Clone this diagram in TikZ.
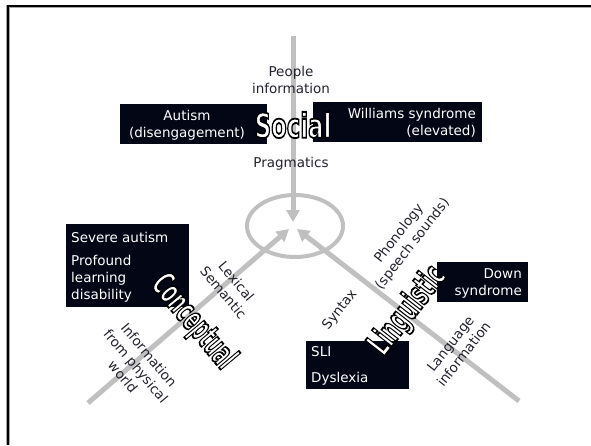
\documentclass[tikz,border=0pt]{standalone}
\usepackage{fontspec}
\setmainfont{DejaVu Sans}
\newfontfamily\headfont{DejaVu Sans}
\usetikzlibrary{arrows.meta,positioning,calc}
\definecolor{boxnavy}{RGB}{3,6,20}
\definecolor{axisgray}{RGB}{192,192,192}
\definecolor{labelink}{RGB}{35,35,45}
% white letters with a black outline (text render mode 2)
\newcommand{\domainword}[2]{\textcolor{white}{\special{pdf:literal direct 2 Tr 1.8 w 0 0 0 RG}\scalebox{#1}[1]{#2}\special{pdf:literal direct 0 Tr}}}

\begin{document}
\begin{tikzpicture}[x=1pt,y=-1pt,font=\fontsize{13.5}{17}\selectfont,
  axis/.style={draw=axisgray,line width=5pt},
  tip/.style={-{Triangle[length=12pt,width=13pt]}},
  box/.style={fill=boxnavy,inner sep=0pt},
  boxtxt/.style={text=white,inner sep=0pt},
  lbl/.style={text=labelink,align=center,inner sep=0pt},
  areaword/.style={font=\headfont\bfseries\fontsize{34}{40}\selectfont,inner sep=0pt}]
  \useasboundingbox (0,0) rectangle (591,445);
  % slide frame
  \draw[black!35,line width=3.5pt] (7.8,445) -- (7.8,6.3) -- (591,6.3);
  \draw[black,line width=2.2pt] (7.8,445) -- (7.8,6.3) -- (591,6.3);
  % three routes into the hub
  \coordinate (topEnd) at (293,36);
  \coordinate (tipS) at (293,222);
  \coordinate (leftEnd) at (88,403);
  \coordinate (tipC) at (289,229);
  \coordinate (rightEnd) at (519,401);
  \coordinate (tipL) at (297,229);
  \draw[axisgray,line width=4pt] (295,226) ellipse [x radius=48pt,y radius=31pt];
  \draw[axis,tip] (topEnd) -- (tipS);
  \draw[axis,tip] (leftEnd) -- (tipC);
  \draw[axis,tip] (rightEnd) -- (tipL);
  % labels along the routes
  \node[lbl] (people) at (291,80) {People\\information};
  \node[lbl] (pragmatics) at (291,164) {Pragmatics};
  \node[lbl,rotate=-50] (lexical) at (230,287) {Lexical\\Semantic};
  \node[lbl,rotate=-50] (physical) at (136,366) {Information\\from physical\\world};
  \node[lbl,rotate=52] (phonology) at (406,239) {Phonology\\(speech sounds)};
  \node[lbl,rotate=52] (syntax) at (340,310) {Syntax};
  \node[lbl,rotate=52] (language) at (457,349) {Language\\information};
  % disorder boxes
  \node[box,minimum width=147pt,minimum height=40pt] (autismbox) at (193.5,124) {};
  \node[boxtxt,align=center] (autism) at (187,125) {Autism\\(disengagement)};
  \node[box,minimum width=169pt,minimum height=40pt] (williamsbox) at (397.5,122) {};
  \node[boxtxt,align=right,anchor=east] (williams) at (476,123) {Williams syndrome\\(elevated)};
  \node[box,minimum width=123pt,minimum height=83pt] (severebox) at (127.5,265.5) {};
  \node[boxtxt,anchor=west] (severe) at (71,237) {Severe autism};
  \node[boxtxt,align=left,anchor=west] (profound) at (71,279) {Profound\\learning\\disability};
  \node[box,minimum width=91pt,minimum height=40pt] (downbox) at (482.5,282) {};
  \node[boxtxt,align=right,anchor=east] (down) at (522,283) {Down\\syndrome};
  \node[box,minimum width=103pt,minimum height=48pt] (slibox) at (357.5,365) {};
  \node[boxtxt,anchor=west] (sli) at (311,352) {SLI};
  \node[boxtxt,anchor=west] (dyslexia) at (311,379) {Dyslexia};
  % domain names
  \node[areaword] (social) at (293,125) {\domainword{0.67}{Social}};
  \node[areaword,rotate=-50] (conceptual) at (193,322) {\domainword{0.52}{Conceptual}};
  \node[areaword,rotate=52] (linguistic) at (408,311) {\domainword{0.55}{Linguistic}};
\end{tikzpicture}
\end{document}
